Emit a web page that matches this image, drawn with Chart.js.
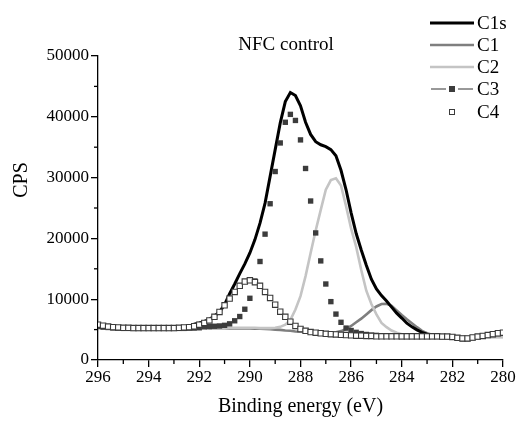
<!DOCTYPE html>
<html>
<head>
<meta charset="utf-8">
<script src="https://cdn.jsdelivr.net/npm/chart.js@4.4.0/dist/chart.umd.min.js"></script>
<style>
html,body{margin:0;padding:0;background:#fff;}
#wrap{width:519px;height:424px;position:relative;}
</style>
</head>
<body>
<div id="wrap"><canvas id="c" width="519" height="424"></canvas></div>
<script>
// Binding energy grid (eV)
const energy = [
 296,295.8,295.6,295.4,295.2,295,294.8,294.6,294.4,294.2,
 294,293.8,293.6,293.4,293.2,293,292.8,292.6,292.4,292.2,
 292,291.8,291.6,291.4,291.2,291,290.8,290.6,290.4,290.2,
 290,289.8,289.6,289.4,289.2,289,288.8,288.6,288.4,288.2,
 288,287.8,287.6,287.4,287.2,287,286.8,286.6,286.4,286.2,
 286,285.8,285.6,285.4,285.2,285,284.8,284.6,284.4,284.2,
 284,283.8,283.6,283.4,283.2,283,282.8,282.6,282.4,282.2,
 282,281.8,281.6,281.4,281.2,281,280.8,280.6,280.4,280.2,
 280];

const c1s = [
 5800,5650,5500,5400,5350,5300,5300,5250,5250,5250,
 5250,5250,5250,5250,5250,5300,5350,5400,5500,5900,
 6100,6350,6700,7250,7900,9100,10900,12500,14200,15800,
 17600,19800,22500,25800,30200,34600,39000,42500,44000,43500,
 41800,39100,37100,35900,35400,35100,34600,33600,31200,28000,
 24200,20800,18100,15600,13300,11700,10600,9700,8700,7700,
 6900,6050,5450,4950,4550,4250,4000,3850,3750,3700,
 3650,3600,3550,3550,3650,3800,3900,4050,4200,4350,
 4450];

const c1 = [
 5300,5300,5300,5300,5300,5300,5300,5300,5300,5300,
 5300,5300,5300,5300,5300,5300,5300,5300,5300,5300,
 5300,5300,5250,5250,5250,5250,5200,5200,5200,5200,
 5200,5150,5150,5100,5050,5000,4950,4850,4800,4700,
 4650,4600,4550,4500,4450,4450,4450,4550,4750,5100,
 5600,6200,6800,7500,8200,8800,9200,9250,8900,8150,
 7400,6700,6050,5400,4800,4400,4150,4000,3900,3850,
 3850,3800,3800,3800,3800,3800,3800,3800,3800,3800,
 3800];

const c2 = [
 5300,5300,5300,5300,5300,5300,5300,5300,5300,5300,
 5300,5300,5300,5300,5300,5300,5300,5300,5300,5300,
 5300,5300,5300,5300,5300,5300,5300,5300,5300,5300,
 5300,5300,5250,5250,5250,5300,5450,5800,6600,8300,
 10500,13800,17600,21300,24700,28000,29600,29900,28700,25300,
 21600,18600,14800,11400,9200,7500,6100,5400,4850,4500,
 4250,4100,4000,3950,3950,3900,3900,3900,3850,3850,
 3800,3800,3800,3800,3800,3800,3800,3800,3800,3800,
 3800];

const c3 = [
 5500,5400,5350,5300,5250,5200,5200,5200,5200,5200,
 5200,5200,5200,5200,5200,5200,5200,5200,5250,5250,
 5300,5450,5500,5550,5600,5700,5950,6450,7150,8350,
 10150,13000,16200,20700,25700,31000,35700,39100,40400,39400,
 36200,31500,26150,20900,16300,12500,9600,7550,6200,5250,
 4850,4550,4350,4200,4100,4050,4000,3950,3900,3900,
 3850,3850,3850,3850,3850,3850,3850,3850,3800,3800,
 3750,3600,3500,3500,3650,3800,3900,4050,4200,4350,
 4450];

const c4 = [
 5800,5650,5500,5400,5350,5300,5300,5250,5250,5250,
 5250,5250,5250,5250,5250,5250,5300,5350,5400,5550,
 5800,6100,6500,7100,7900,9000,10100,11200,12200,12900,
 13100,12800,12200,11200,10200,9100,7950,7100,6300,5600,
 5100,4800,4600,4500,4400,4300,4250,4200,4150,4100,
 4050,4000,4000,3950,3950,3900,3900,3900,3900,3900,
 3900,3900,3900,3900,3900,3900,3900,3900,3850,3850,
 3800,3650,3550,3550,3700,3850,3950,4100,4250,4400,
 4500];

const xTicksMajor = [296,294,292,290,288,286,284,282,280];
const xTicksMinor = [295,293,291,289,287,285,283,281];
const yTicksMinor = [5000,15000,25000,35000,45000];
const seriesNames = ['C1s','C1','C2','C3','C4'];
const chartTitle = 'NFC control';
const xTitle = 'Binding energy (eV)';
const yTitle = 'CPS';

const pts = arr => energy.map((e,i)=>({x:e,y:arr[i]}));
const FONT = '"Liberation Serif", "Times New Roman", serif';

const decor = {
  id:'decor',
  afterDraw(chart){
    const ctx = chart.ctx, xs = chart.scales.x, ys = chart.scales.y;
    ctx.save();
    ctx.strokeStyle = '#000'; ctx.lineWidth = 1.3;
    xTicksMinor.forEach(v=>{const p=xs.getPixelForValue(v);ctx.beginPath();ctx.moveTo(p,ys.bottom);ctx.lineTo(p,ys.bottom+4);ctx.stroke();});
    yTicksMinor.forEach(v=>{const p=ys.getPixelForValue(v);ctx.beginPath();ctx.moveTo(xs.left,p);ctx.lineTo(xs.left-4,p);ctx.stroke();});
    ctx.fillStyle='#000'; ctx.textAlign='center'; ctx.textBaseline='middle';
    ctx.font = '19px ' + FONT;
    ctx.fillText(chartTitle, 286, 45);
    ctx.save();
    ctx.translate(22,180); ctx.rotate(-Math.PI/2);
    ctx.font = '20px ' + FONT;
    ctx.fillText(yTitle,0,0);
    ctx.restore();
    // legend
    const ds = chart.data.datasets;
    const rowY = [23,45,67,89,112];
    ctx.font = '19px ' + FONT; ctx.textAlign='left';
    ds.forEach((d,i)=>{
      const y = rowY[i];
      if (d.showLine) {
        ctx.strokeStyle = d.borderColor; ctx.lineWidth = d.borderWidth;
        ctx.beginPath(); ctx.moveTo(430,y); ctx.lineTo(474,y); ctx.stroke();
      } else if (d.label==='C3') {
        ctx.strokeStyle = '#333'; ctx.lineWidth = 1;
        ctx.beginPath(); ctx.moveTo(431,y); ctx.lineTo(446,y); ctx.moveTo(458,y); ctx.lineTo(473,y); ctx.stroke();
        ctx.fillStyle = d.backgroundColor; ctx.fillRect(449,y-3,6,6);
      } else {
        ctx.fillStyle='#fff'; ctx.strokeStyle = d.borderColor; ctx.lineWidth=1;
        ctx.fillRect(449,y-2.5,5,5); ctx.strokeRect(449.5,y-2.5,5,5);
      }
      ctx.fillStyle='#000';
      ctx.fillText(d.label, 477, y+1);
    });
    ctx.restore();
  }
};

new Chart(document.getElementById('c'), {
  type:'scatter',
  data:{
    datasets:[
      {label:seriesNames[0], data:pts(c1s), showLine:true, borderColor:'#000', borderWidth:3, pointRadius:0, order:2},
      {label:seriesNames[1], data:pts(c1), showLine:true, borderColor:'#7f7f7f', borderWidth:2.6, pointRadius:0, order:4},
      {label:seriesNames[2], data:pts(c2), showLine:true, borderColor:'#c4c4c4', borderWidth:2.6, pointRadius:0, order:3},
      {label:seriesNames[3], data:pts(c3), showLine:false, pointStyle:'rect', pointRadius:3.8, backgroundColor:'#3c3c3c', borderColor:'#3c3c3c', borderWidth:0, order:1},
      {label:seriesNames[4], data:pts(c4), showLine:false, pointStyle:'rect', pointRadius:3.8, backgroundColor:'#fff', borderColor:'#3a3a3a', borderWidth:1.1, order:0}
    ]
  },
  options:{
    responsive:false, animation:false,
    layout:{padding:{left:0,top:56,right:16,bottom:0}},
    plugins:{legend:{display:false}, tooltip:{enabled:false}, title:{display:false}},
    scales:{
      x:{type:'linear', reverse:true, min:280, max:296,
         afterBuildTicks: s => { s.ticks = xTicksMajor.map(v=>({value:v})); },
         afterFit: s => { s.height = 64; },
         ticks:{font:{family:FONT,size:17}, color:'#000', padding:0, maxRotation:0, callback:v=>String(v)},
         grid:{drawOnChartArea:false, drawTicks:true, tickLength:7, color:'#000', lineWidth:1.3},
         border:{display:true, color:'#000', width:1.3},
         title:{display:true, text:xTitle, font:{family:FONT,size:20}, color:'#000', padding:{top:0,bottom:5}}
      },
      y:{min:0, max:50000,
         ticks:{stepSize:10000, font:{family:FONT,size:17}, color:'#000', padding:2, callback:v=>String(v)},
         afterFit: s => { s.width = 98; },
         grid:{drawOnChartArea:false, drawTicks:true, tickLength:7, color:'#000', lineWidth:1.3},
         border:{display:true, color:'#000', width:1.3}
      }
    }
  },
  plugins:[decor]
});
</script>
</body>
</html>
